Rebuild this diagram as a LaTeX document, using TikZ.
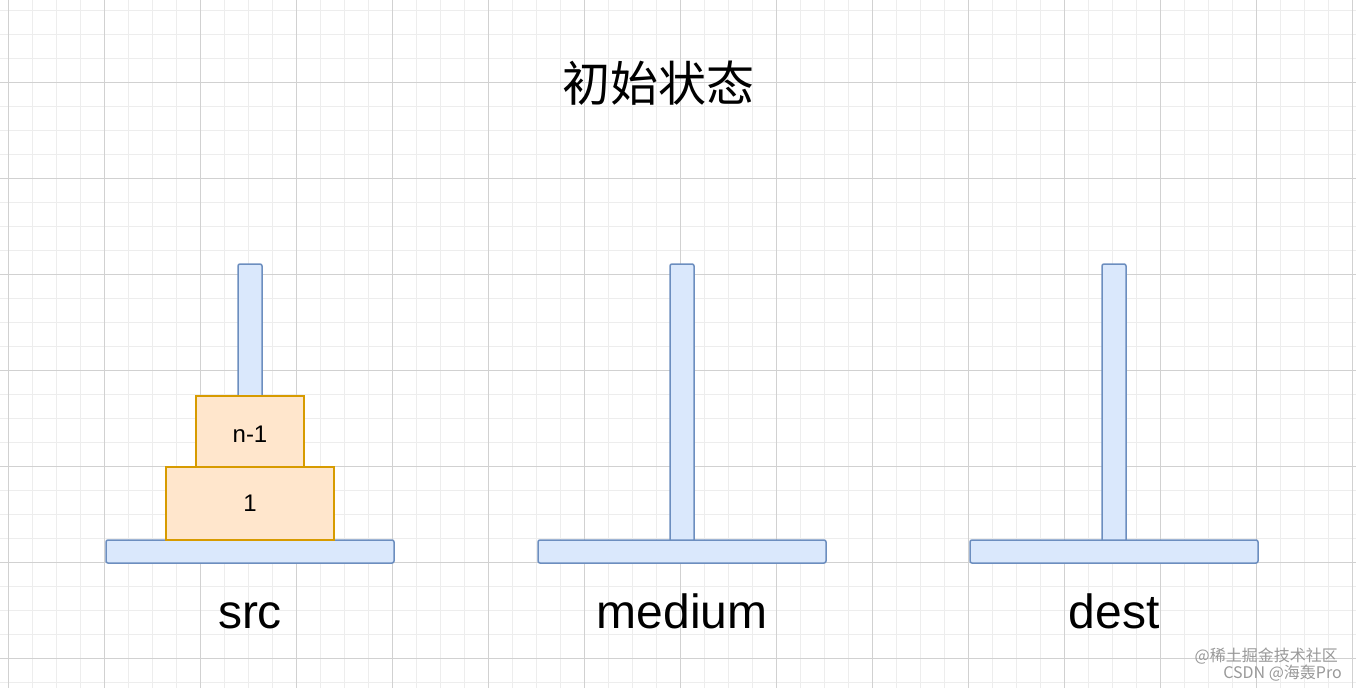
\documentclass[tikz,border=0pt]{standalone}
\usepackage{fontspec}
\setmainfont{Liberation Sans}
\newfontfamily\cjk{Noto Sans CJK SC}
\definecolor{pfill}{HTML}{DAE8FC}\definecolor{pdraw}{HTML}{6C8EBF}
\definecolor{dfill}{HTML}{FFE6CC}\definecolor{ddraw}{HTML}{D79B00}
\begin{document}
\begin{tikzpicture}[x=1pt,y=-1pt,
  pole/.style={fill=pfill,draw=pdraw,line width=1.5pt,rounded corners=2pt},
  disk/.style={fill=dfill,draw=ddraw,line width=1.5pt},
  lbl/.style={font=\fontsize{48}{52}\selectfont,inner sep=0pt,anchor=base}]
\useasboundingbox (0,0) rectangle (1356,688);
\fill[white] (0,0) rectangle (1356,688);
\foreach \x in {8,32,...,1356} \draw[black!7,line width=0.8pt] (\x,0) -- (\x,688);
\foreach \y in {10,34,...,688} \draw[black!7,line width=0.8pt] (0,\y) -- (1356,\y);
\foreach \x in {8,104,...,1356} \draw[black!18,line width=0.8pt] (\x,0) -- (\x,688);
\foreach \y in {82,178,...,688} \draw[black!18,line width=0.8pt] (0,\y) -- (1356,\y);
\node[font=\cjk\fontsize{48}{52}\selectfont] (title) at (658,83) {初始状态};
% src
\draw[pole] (238,264) rectangle (262,400);
\draw[pole] (106,540) rectangle (394,563);
\draw[disk] (196,396) rectangle node[font=\fontsize{24}{26}\selectfont,yshift=-3pt] (d2) {n-1} (304,467);
\draw[disk] (166,467) rectangle node[font=\fontsize{24}{26}\selectfont] (d1) {1} (334,540);
% medium
\draw[pole] (670,264) rectangle (694,542);
\draw[pole] (538,540) rectangle (826,563);
% dest
\draw[pole] (1102,264) rectangle (1126,542);
\draw[pole] (970,540) rectangle (1258,563);
\node[lbl] (src) at (250,628) {src};
\node[lbl] (med) at (682,628) {medium};
\node[lbl] (dest) at (1114,628) {dest};
\node[font=\cjk\fontsize{16}{17}\selectfont,text=black!40,anchor=east,inner sep=0pt] (wm1) at (1338,656) {@稀土掘金技术社区};
\node[font=\cjk\fontsize{16}{17}\selectfont,text=black!40,anchor=east,inner sep=0pt] (wm2) at (1342,673) {CSDN @海轰Pro};
\end{tikzpicture}
\end{document}
